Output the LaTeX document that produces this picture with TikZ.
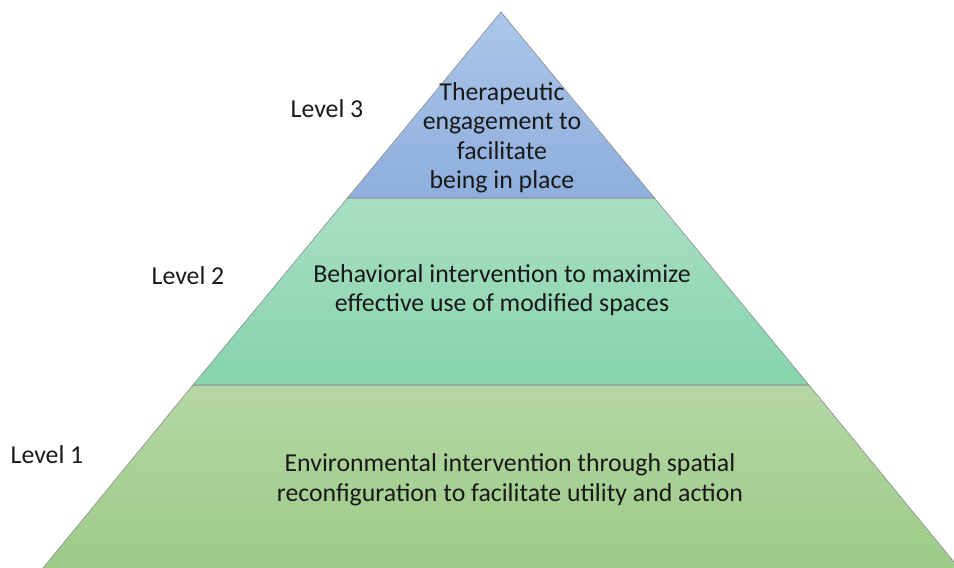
\documentclass[tikz,border=0pt]{standalone}
\usepackage{fontspec}
\setmainfont{Carlito}
\begin{document}
\begin{tikzpicture}[x=1pt,y=-1pt,
  tier/.style={draw=black!45,line width=0.6pt,line join=miter},
  tiertext/.style={align=center,font=\fontsize{25.8}{29.5}\selectfont,text=black!90},
  lvl/.style={font=\fontsize{25.8}{29.5}\selectfont,text=black!90}]
\useasboundingbox (0,0) rectangle (954,568);
\clip (0,0) rectangle (954,568);
% pyramid geometry: apex and the points where each tier boundary meets the sides
\coordinate (apex) at (501,12);
\coordinate (l3) at (347.5,198);  \coordinate (r3) at (654.5,198);
\coordinate (l2) at (193,385);    \coordinate (r2) at (809,385);
\coordinate (l1) at (41,570.5);   \coordinate (r1) at (961,570.5);
% tiers, bottom to top
\draw[tier,top color={rgb,255:red,181;green,215;blue,165},bottom color={rgb,255:red,156;green,203;blue,135}]
  (l2) -- (r2) -- (r1) -- (l1) -- cycle;
\draw[tier,top color={rgb,255:red,169;green,223;blue,197},bottom color={rgb,255:red,134;green,211;blue,172}]
  (l3) -- (r3) -- (r2) -- (l2) -- cycle;
\draw[tier,top color={rgb,255:red,171;green,198;blue,233},bottom color={rgb,255:red,142;green,174;blue,220}]
  (apex) -- (r3) -- (l3) -- cycle;
% tier descriptions
\node[tiertext] (t3) at (502,138) {Therapeutic\\engagement to\\facilitate\\being in place};
\node[tiertext] (t2) at (502,290) {Behavioral intervention to maximize\\effective use of modified spaces};
\node[tiertext] (t1) at (510,480) {Environmental intervention through spatial\\reconfiguration to facilitate utility and action};
% level labels
\node[lvl] (v3) at (327,109) {Level 3};
\node[lvl] (v2) at (188,276) {Level 2};
\node[lvl] (v1) at (47,455) {Level 1};
\end{tikzpicture}
\end{document}
